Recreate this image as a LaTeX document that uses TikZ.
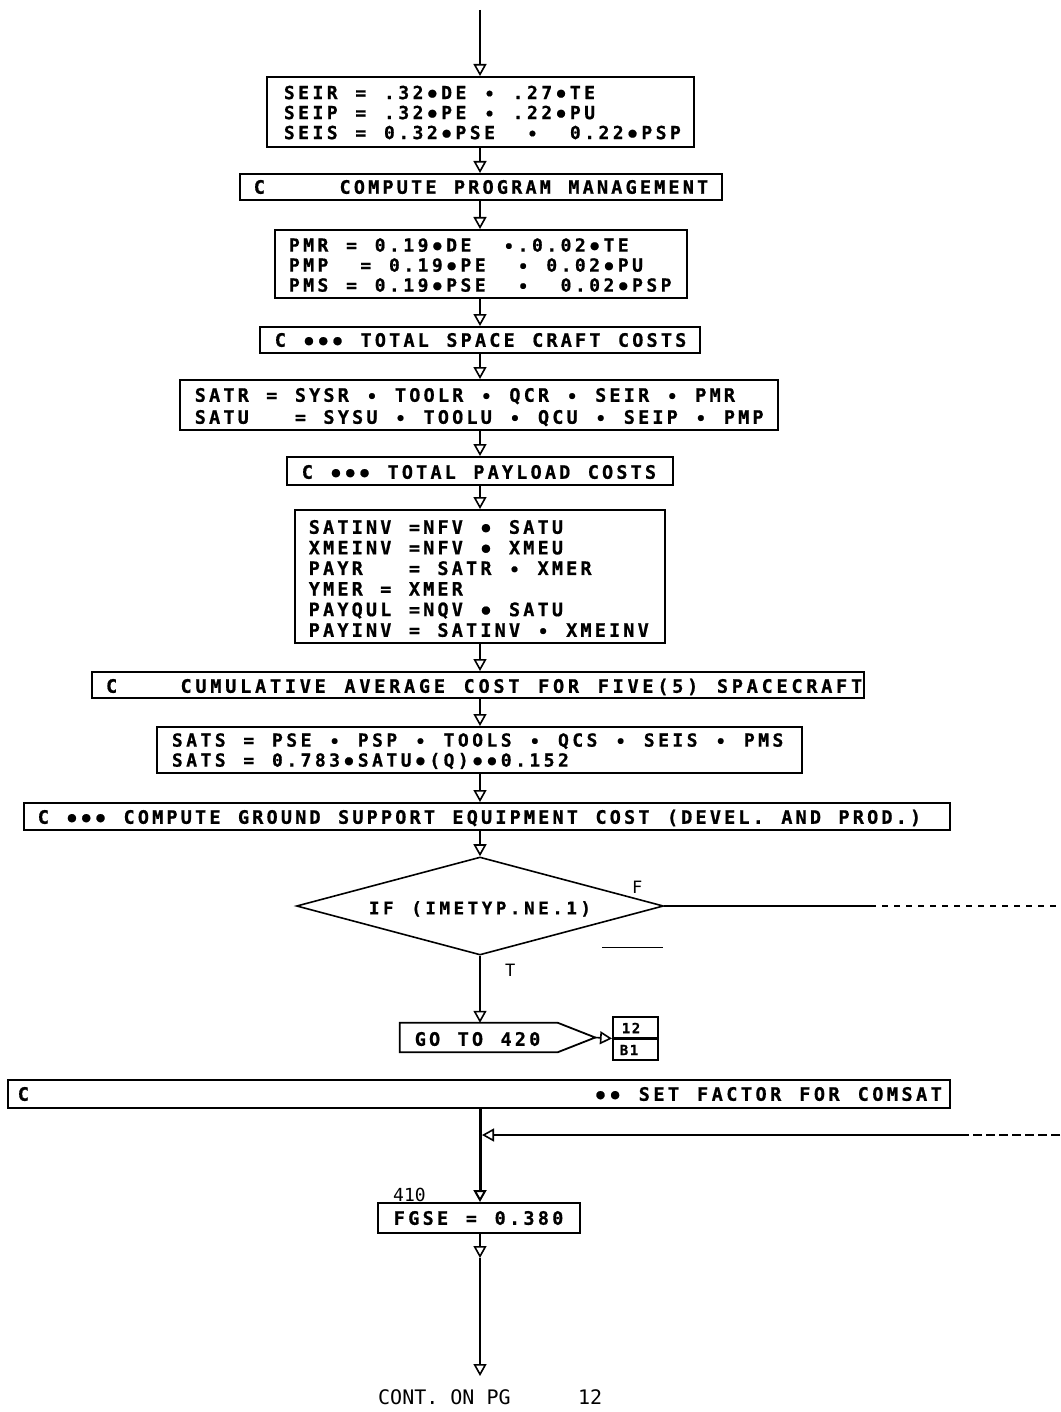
\documentclass[tikz,border=0pt]{standalone}
\usepackage{fontspec}
\usepackage{graphicx}
\usetikzlibrary{arrows.meta,shapes.geometric}
\newfontfamily\plotfont{DejaVu Sans Mono}[BoldFeatures={FakeBold=0.8}]
\ExplSyntaxOn
\dim_new:N \l_plot_pitch_dim
\NewDocumentCommand \pl { O{14.3pt} m }
  {
    \dim_set:Nn \l_plot_pitch_dim {#1}
    \str_map_inline:nn {#2}
      {
        \str_case:nnF {##1}
          {
            {_} { \hbox_to_wd:nn { \l_plot_pitch_dim } { } }
            {*} { \hbox_to_wd:nn { \l_plot_pitch_dim } { \hss \raisebox{-3pt}{\scalebox{1.25}{\char"2022}} \hss } }
            {+} { \hbox_to_wd:nn { \l_plot_pitch_dim } { \hss \raisebox{-0.5pt}{\scalebox{0.9}{\char"2022}} \hss } }
          }
          { \hbox_to_wd:nn { \l_plot_pitch_dim } { \hss ##1 \hss } }
      }
  }
\ExplSyntaxOff
\begin{document}
\begin{tikzpicture}[x=1pt,y=-1pt,
  box/.style={draw, line width=2pt, rectangle, inner sep=0pt, fill=white},
  txt/.style={inner sep=0pt, anchor=base west, font=\plotfont\bfseries\fontsize{18.5pt}{20pt}\selectfont},
  txtm/.style={inner sep=0pt, anchor=base west, font=\plotfont\bfseries\fontsize{18pt}{20pt}\selectfont},
  txtsm/.style={inner sep=0pt, anchor=base west, font=\plotfont\bfseries\fontsize{17.5pt}{19pt}\selectfont},
  lbl/.style={inner sep=0pt, anchor=base west, font=\plotfont\fontsize{20pt}{22pt}\selectfont},
  flow/.style={line width=1.6pt, -{Triangle[open,width=13pt,length=12pt,line width=1.6pt]}},
  fline/.style={line width=1.2pt}]
\useasboundingbox (0,0) rectangle (1060,1412);
\fill[white] (0,0) rectangle (1060,1412);

\coordinate (top) at (480,10);

% boxes
\node[box, minimum width=427pt, minimum height=70pt] (b1) at (480.5,112) {};
\node[box, minimum width=482pt, minimum height=26pt] (b2) at (481,187) {};
\node[box, minimum width=412pt, minimum height=68pt] (b3) at (481,264) {};
\node[box, minimum width=440pt, minimum height=26pt] (b4) at (480,340) {};
\node[box, minimum width=598pt, minimum height=50pt] (b5) at (479,405) {};
\node[box, minimum width=386pt, minimum height=28pt] (b6) at (480,471) {};
\node[box, minimum width=370pt, minimum height=133pt] (b7) at (480,576.5) {};
\node[box, minimum width=772pt, minimum height=26pt] (b8) at (478,685) {};
\node[box, minimum width=645pt, minimum height=46pt] (b9) at (479.5,750) {};
\node[box, minimum width=926pt, minimum height=27pt] (b10) at (487,816.5) {};
\node[draw, diamond, aspect=3.74, minimum width=367pt, minimum height=98pt, inner sep=0pt, line width=1.6pt] (dia) at (480,906) {};
\node[inner sep=0pt, minimum width=195pt, minimum height=29pt] (goto) at (497.5,1037.5) {};
\draw[line width=1.8pt] (goto.north west) -- ++(158,0) -- (goto.east) -- ([xshift=158pt]goto.south west) -- (goto.south west) -- cycle;
\node[box, minimum width=45pt, minimum height=43pt] (cbox) at (635.5,1038.5) {};
\draw[line width=3pt] (cbox.west) -- (cbox.east);
\node[box, minimum width=942pt, minimum height=28pt] (b11) at (479,1094) {};
\node[box, minimum width=202pt, minimum height=30pt] (fgse) at (479,1218) {};

% texts
\node[txtm] (t1a) at (282,99.1) {\pl{SEIR_=_.32*DE_+_.27*TE}};
\node[txtm] (t1b) at (282,119.1) {\pl{SEIP_=_.32*PE_+_.22*PU}};
\node[txtm] (t1c) at (282,139.1) {\pl{SEIS_=_0.32*PSE__+__0.22*PSP}};
\node[txt] (t2) at (252,193.75) {\pl{C_____COMPUTE_PROGRAM_MANAGEMENT}};
\node[txtm] (t3a) at (287,251.6) {\pl{PMR_=_0.19*DE__+.0.02*TE}};
\node[txtm] (t3b) at (287,271.6) {\pl{PMP__=_0.19*PE__+_0.02*PU}};
\node[txtm] (t3c) at (287,291.6) {\pl{PMS_=_0.19*PSE__+__0.02*PSP}};
\node[txt] (t4) at (273,346.75) {\pl{C_***_TOTAL_SPACE_CRAFT_COSTS}};
\node[txt] (t5a) at (193,401.75) {\pl{SATR_=_SYSR_+_TOOLR_+_QCR_+_SEIR_+_PMR}};
\node[txt] (t5b) at (193,423.75) {\pl{SATU___=_SYSU_+_TOOLU_+_QCU_+_SEIP_+_PMP}};
\node[txt] (t6) at (300,478.75) {\pl{C_***_TOTAL_PAYLOAD_COSTS}};
\node[txt] (t7a) at (307,533.75) {\pl{SATINV_=NFV_*_SATU}};
\node[txt] (t7b) at (307,554.35) {\pl{XMEINV_=NFV_*_XMEU}};
\node[txt] (t7c) at (307,574.95) {\pl{PAYR___=_SATR_+_XMER}};
\node[txt] (t7d) at (307,595.55) {\pl{YMER_=_XMER}};
\node[txt] (t7e) at (307,616.15) {\pl{PAYQUL_=NQV_*_SATU}};
\node[txt] (t7f) at (307,636.75) {\pl{PAYINV_=_SATINV_+_XMEINV}};
\node[txt] (t8) at (104,692.75) {\pl[14.9pt]{C____CUMULATIVE_AVERAGE_COST_FOR_FIVE(5)_SPACECRAFT}};
\node[txtm] (t9a) at (170,746.6) {\pl{SATS_=_PSE_+_PSP_+_TOOLS_+_QCS_+_SEIS_+_PMS}};
\node[txtm] (t9b) at (170,766.6) {\pl{SATS_=_0.783*SATU*(Q)**0.152}};
\node[txt] (t10) at (36,823.75) {\pl[14.3pt]{C_***_COMPUTE_GROUND_SUPPORT_EQUIPMENT_COST_(DEVEL._AND_PROD.)}};
\node[txtsm] (tdia) at (367,914.4) {\pl[14.1pt]{IF_(IMETYP.NE.1)}};
\node[txt] (tgoto) at (413,1045.75) {\pl{GO_TO_420}};
\node[inner sep=0pt, font=\plotfont\bfseries\fontsize{14pt}{16pt}\selectfont] (tc1) at (631,1028) {\pl[10pt]{12}};
\node[inner sep=0pt, font=\plotfont\bfseries\fontsize{14pt}{16pt}\selectfont] (tc2) at (629,1050) {\pl[10pt]{B1}};
\node[txt] (t11a) at (16,1100.75) {\pl{C}};
\node[txt] (t11b) at (593,1100.75) {\pl[14.6pt]{**_SET_FACTOR_FOR_COMSAT}};
\node[txt] (tfgse) at (392,1224.75) {\pl[14.4pt]{FGSE_=_0.380}};
\node[lbl, font=\plotfont\fontsize{18pt}{20pt}\selectfont] (l410) at (393,1201) {410};
\node[lbl] (lcont) at (378,1404) {CONT. ON PG};
\node[lbl] (lpg) at (578,1404) {12};
\node[lbl, font=\plotfont\fontsize{17pt}{19pt}\selectfont] (lf) at (632,893) {F};
\node[lbl, font=\plotfont\fontsize{17pt}{19pt}\selectfont] (lt) at (505,976) {T};

% connectors
\draw[flow] (top) -- (b1.north -| top);
\draw[flow] (b1.south -| top) -- (b2.north -| top);
\draw[flow] (b2.south -| top) -- (b3.north -| top);
\draw[flow] (b3.south -| top) -- (b4.north -| top);
\draw[flow] (b4.south -| top) -- (b5.north -| top);
\draw[flow] (b5.south -| top) -- (b6.north -| top);
\draw[flow] (b6.south -| top) -- (b7.north -| top);
\draw[flow] (b7.south -| top) -- (b8.north -| top);
\draw[flow] (b8.south -| top) -- (b9.north -| top);
\draw[flow] (b9.south -| top) -- (b10.north -| top);
\draw[flow] (b10.south -| top) -- (dia.north);
\draw[flow] (dia.south) -- (goto.north -| dia.south);
\draw[flow] (goto.east) -- (cbox.west);

% F branch
\coordinate (fmid) at (870,906);
\coordinate (fend) at (1060,906);
\draw[fline] (dia.east) -- (fmid);
\draw[fline, dash pattern=on 6pt off 6pt] (fmid) -- (fend);
\draw[line width=1pt] (602,947) -- (663,947);

% merge into spine
\coordinate (mend) at (1060,1135);
\coordinate (mmid) at (960,1135);
\coordinate (mj) at (480,1135);
\draw[fline, dash pattern=on 9pt off 4pt] (mend) -- (mmid);
\draw[fline, -{Triangle[open,width=13pt,length=12pt,line width=1.6pt]}, shorten >=2pt] (mmid) -- (mj);
\draw[line width=3pt, -{Triangle[open,width=13pt,length=12pt,line width=2pt]}] (b11.south -| top) -- (fgse.north -| top);

% below FGSE
\coordinate (c1) at (480,1258);
\coordinate (cont) at (480,1376);
\draw[flow] (fgse.south -| top) -- (c1);
\draw[flow] (c1) -- (cont);
\end{tikzpicture}
\end{document}
